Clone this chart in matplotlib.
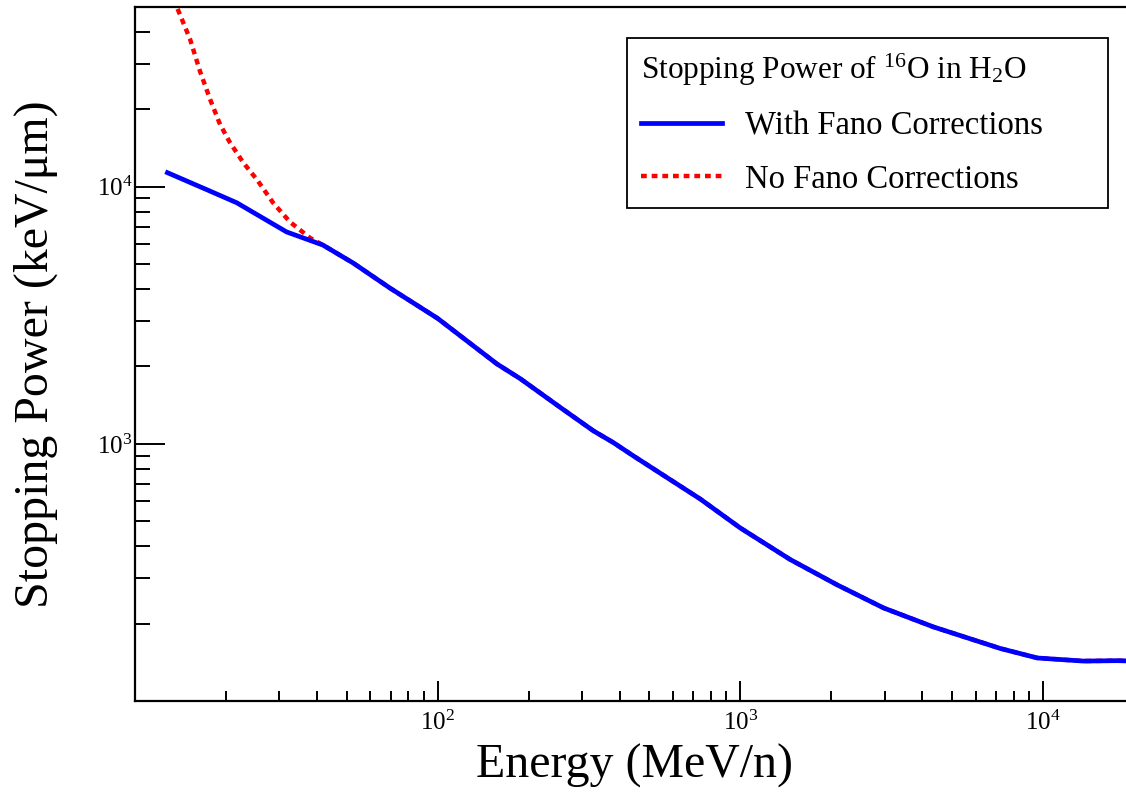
import matplotlib
matplotlib.use("Agg")
import matplotlib.pyplot as plt
from matplotlib.ticker import LogLocator, NullFormatter, FuncFormatter
import math

plt.rcParams['font.family'] = ['Liberation Serif', 'DejaVu Serif']
plt.rcParams['mathtext.fontset'] = 'custom'
plt.rcParams['mathtext.rm'] = 'Liberation Serif'
plt.rcParams['mathtext.it'] = 'Liberation Serif:italic'
plt.rcParams['mathtext.bf'] = 'Liberation Serif:bold'

# Data (Energy in MeV/n, stopping power in keV/um)
energy_fano = [12.8, 17.3, 21.7, 31.7, 41.8, 52.6, 69.7, 100, 157, 188, 254, 327,
               381, 444, 738, 1000, 1462, 2089, 2978, 4355, 7240, 9590, 13600, 17600, 20000]
sp_fano = [11340, 9730, 8660, 6670, 5930, 5050, 4030, 3076, 2046, 1789, 1387, 1124,
           1011, 897, 610, 471, 355, 283, 230, 194, 160, 147, 143, 143.5, 143]

energy_nofano = [12.8, 13.7, 15.2, 16.4, 17.7, 19.1, 20.6, 22.8, 25.3, 28.6, 32.5, 37.9,
                 41.8, 52.6, 69.7, 100, 157, 188, 254, 327, 381, 444, 738, 1000, 1462,
                 2089, 2978, 4355, 7240, 9590, 13600, 17600, 20000]
sp_nofano = [62000, 50500, 37500, 28100, 21900, 17470, 14850, 12400, 10650, 8660, 7300, 6320,
             5930, 5050, 4030, 3076, 2046, 1789, 1387, 1124, 1011, 897, 610, 471, 355,
             283, 230, 194, 160, 147, 143, 143.5, 143]

x_labeled = [100, 1000, 10000]
y_labeled = [1000, 10000]

W, H = 1126, 793
fig = plt.figure(figsize=(W / 100, H / 100), dpi=100)
left, right, top, bottom = 135, 1134, 7, 701
ax = fig.add_axes([left / W, 1 - bottom / H, (right - left) / W, (bottom - top) / H])

l_no, = ax.plot(energy_nofano, sp_nofano, color='#ff0000', lw=3.2,
                linestyle=(0, (1.3, 1.1)), label='No Fano Corrections', zorder=2)
l_fano, = ax.plot(energy_fano, sp_fano, color='#0000ff', lw=3.4,
                  label='With Fano Corrections', zorder=3)

ax.set_xscale('log')
ax.set_yscale('log')
ax.set_xlim(10, 2e4)
ax.set_ylim(100, 5e4)


def make_fmt(allowed):
    def fmt(v, pos):
        for a in allowed:
            if abs(v - a) / a < 1e-6:
                return r'$10^{%d}$' % round(math.log10(a))
        return ''
    return FuncFormatter(fmt)


ax.xaxis.set_major_locator(LogLocator(base=10, numticks=20))
ax.xaxis.set_minor_locator(LogLocator(base=10, subs=range(2, 10), numticks=20))
ax.yaxis.set_major_locator(LogLocator(base=10, numticks=20))
ax.yaxis.set_minor_locator(LogLocator(base=10, subs=range(2, 10), numticks=20))
ax.xaxis.set_major_formatter(make_fmt(x_labeled))
ax.yaxis.set_major_formatter(make_fmt(y_labeled))
ax.xaxis.set_minor_formatter(NullFormatter())
ax.yaxis.set_minor_formatter(NullFormatter())

ax.tick_params(axis='both', which='both', direction='in', width=1.4, colors='black',
               labelsize=18, top=False, right=False)
ax.tick_params(axis='x', which='major', length=14.4, pad=7)
ax.tick_params(axis='x', which='minor', length=7.2)
ax.tick_params(axis='y', which='major', length=21.6, pad=2)
ax.tick_params(axis='y', which='minor', length=10.8)

for s in ax.spines.values():
    s.set_linewidth(1.6)

ax.set_xlabel('Energy (MeV/n)', fontsize=34.5)
ax.set_ylabel('Stopping Power (keV/\u03bcm)', fontsize=34.5)
ax.xaxis.set_label_coords(0.5, -0.062)
ax.yaxis.set_label_coords(-0.077, 0.5)

leg = fig.legend(handles=[l_fano, l_no],
                 title='Stopping Power of $^{16}$O in H$_2$O',
                 title_fontsize=22.5, fontsize=23.5,
                 loc='upper left',
                 bbox_to_anchor=(627 / W, 1 - 203 / H, 481 / W, 165 / H),
                 bbox_transform=fig.transFigure, mode='expand',
                 alignment='left', frameon=True, fancybox=False, framealpha=1,
                 edgecolor='black', borderaxespad=0, borderpad=0.42,
                 handlelength=2.5, handletextpad=0.7, labelspacing=0.7)
leg.get_frame().set_linewidth(1.3)

fig.savefig('out.png', dpi=100)
